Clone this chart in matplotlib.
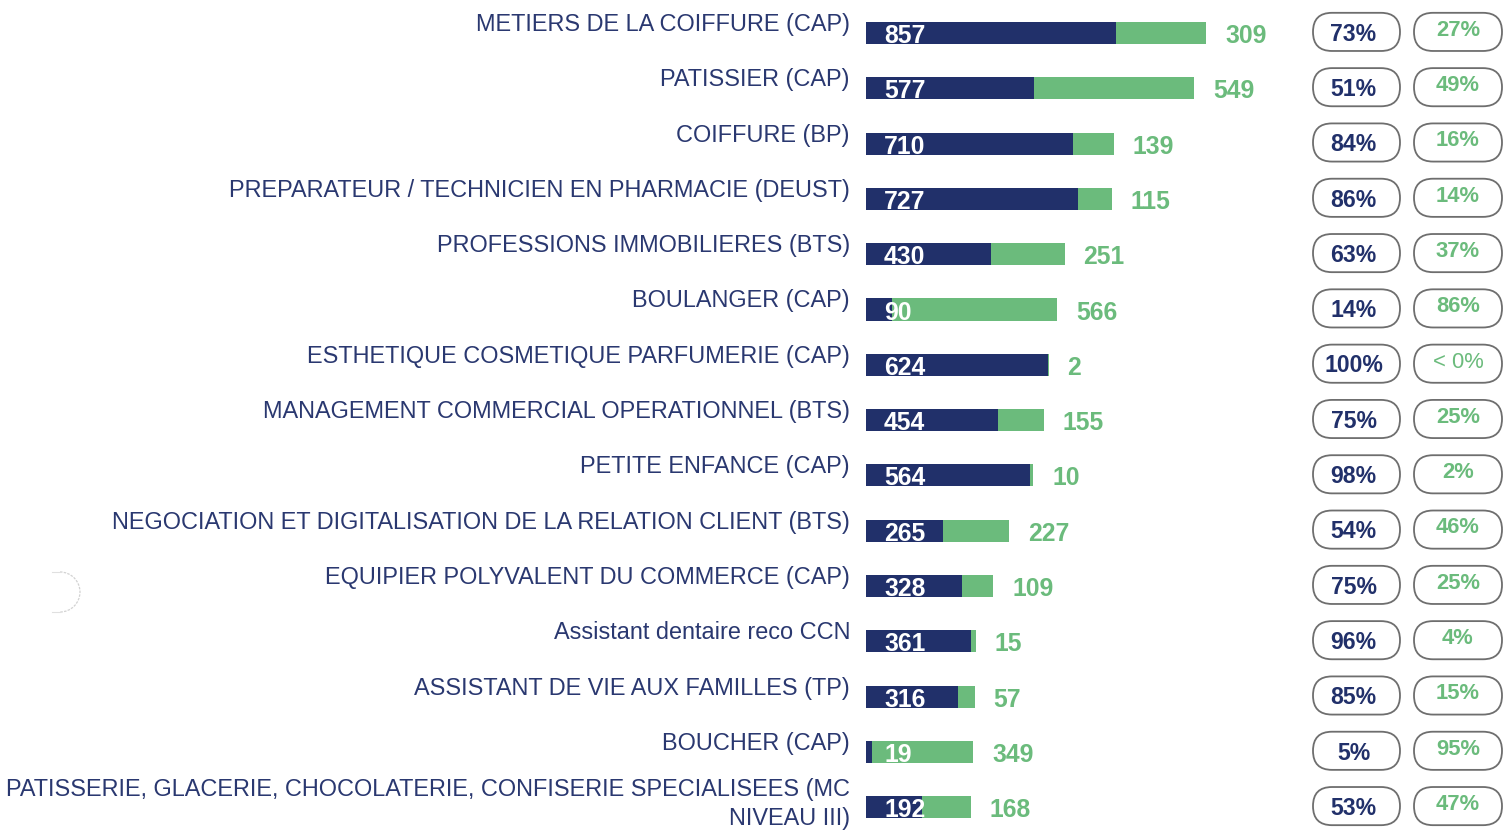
import matplotlib
matplotlib.use("Agg")
import matplotlib.pyplot as plt
from matplotlib.patches import FancyBboxPatch, Arc

plt.rcParams['font.family'] = ['Liberation Sans', 'DejaVu Sans']

labels = [
    "METIERS DE LA COIFFURE (CAP)",
    "PATISSIER (CAP)",
    "COIFFURE (BP)",
    "PREPARATEUR / TECHNICIEN EN PHARMACIE (DEUST)",
    "PROFESSIONS IMMOBILIERES (BTS)",
    "BOULANGER (CAP)",
    "ESTHETIQUE COSMETIQUE PARFUMERIE (CAP)",
    "MANAGEMENT COMMERCIAL OPERATIONNEL (BTS)",
    "PETITE ENFANCE (CAP)",
    "NEGOCIATION ET DIGITALISATION DE LA RELATION CLIENT (BTS)",
    "EQUIPIER POLYVALENT DU COMMERCE (CAP)",
    "Assistant dentaire reco CCN",
    "ASSISTANT DE VIE AUX FAMILLES (TP)",
    "BOUCHER (CAP)",
    "PATISSERIE, GLACERIE, CHOCOLATERIE, CONFISERIE SPECIALISEES (MC\nNIVEAU III)",
]
dark_values = [857, 577, 710, 727, 430, 90, 624, 454, 564, 265, 328, 361, 316, 19, 192]
green_values = [309, 549, 139, 115, 251, 566, 2, 155, 10, 227, 109, 15, 57, 349, 168]
dark_pct = ["73%", "51%", "84%", "86%", "63%", "14%", "100%", "75%", "98%", "54%", "75%", "96%", "85%", "5%", "53%"]
green_pct = ["27%", "49%", "16%", "14%", "37%", "86%", "< 0%", "25%", "2%", "46%", "25%", "4%", "15%", "95%", "47%"]

NAVY = "#21306a"
GREEN = "#6bbb7c"
LABEL = "#2a3870"

W, H = 1511, 836
fig = plt.figure(figsize=(W / 100, H / 100), dpi=100)

# layout constants (pixels)
bar_x0 = 866.0
px_per_unit = 0.2916
row0 = 33.0
row_step = 55.3

ax = fig.add_axes([0, 0, 1, 1])
ax.set_xlim(-bar_x0 / px_per_unit, (W - bar_x0) / px_per_unit)
ax.set_ylim((H - row0) / row_step, -row0 / row_step)
ax.axis("off")

# overlay axes: x in pixels, y in rows (same as main)
ov = fig.add_axes([0, 0, 1, 1], sharey=ax)
ov.set_xlim(0, W)
ov.patch.set_alpha(0)
ov.axis("off")

ys = list(range(len(labels)))
ax.barh(ys, dark_values, height=0.4, color=NAVY, edgecolor="none")
ax.barh(ys, green_values, left=dark_values, height=0.4, color=GREEN, edgecolor="none")

for i, (lab, d, g, dp, gp) in enumerate(zip(labels, dark_values, green_values, dark_pct, green_pct)):
    if "\n" in lab:
        ax.annotate(lab, xy=(0, i), xytext=(-16, 3), textcoords="offset pixels",
                    ha="right", va="center", fontsize=16.9, color=LABEL,
                    linespacing=1.3, multialignment="right")
    else:
        ax.annotate(lab, xy=(0, i), xytext=(-16, 2), textcoords="offset pixels",
                    ha="right", va="baseline", fontsize=16.9, color=LABEL)
    ax.annotate(str(d), xy=(0, i), xytext=(18, -10), textcoords="offset pixels",
                ha="left", va="baseline", fontsize=17.8, fontweight="bold", color="white")
    ax.annotate(str(g), xy=(d + g, i), xytext=(19, -10), textcoords="offset pixels",
                ha="left", va="baseline", fontsize=17.8, fontweight="bold", color=GREEN)

    # percentage pills
    for x0, x1, txt, col, bold, dy, dx in [(1313, 1400, dp, NAVY, True, 0.02, -3),
                                           (1414, 1502, gp, GREEN, not gp.startswith("<"), -0.05, 0)]:
        box = FancyBboxPatch((x0, i - 0.345 - 0.02), x1 - x0, 0.69,
                             boxstyle="round,pad=0,rounding_size=19",
                             mutation_aspect=1 / row_step,
                             facecolor="white", edgecolor="#6e6e6e", linewidth=1.3)
        ov.add_patch(box)
        ov.text((x0 + x1) / 2 + dx, i + dy, txt, ha="center", va="center",
                fontsize=16.6 if col == NAVY else 15.8,
                fontweight="bold" if bold else "normal", color=col)

# faint stray rounded outline at left edge
arc_row = (592 - row0) / row_step
ov.add_patch(Arc((60, arc_row), 40, 40 / row_step, theta1=-90, theta2=90,
                 color="#d2d2d2", linewidth=0.9, linestyle=(0, (2, 1))))
ov.plot([52, 60], [arc_row - 20 / row_step] * 2, color="#e0e0e0", lw=0.8)
ov.plot([52, 60], [arc_row + 20 / row_step] * 2, color="#e0e0e0", lw=0.8)

fig.savefig("out.png", dpi=100, facecolor="white")
